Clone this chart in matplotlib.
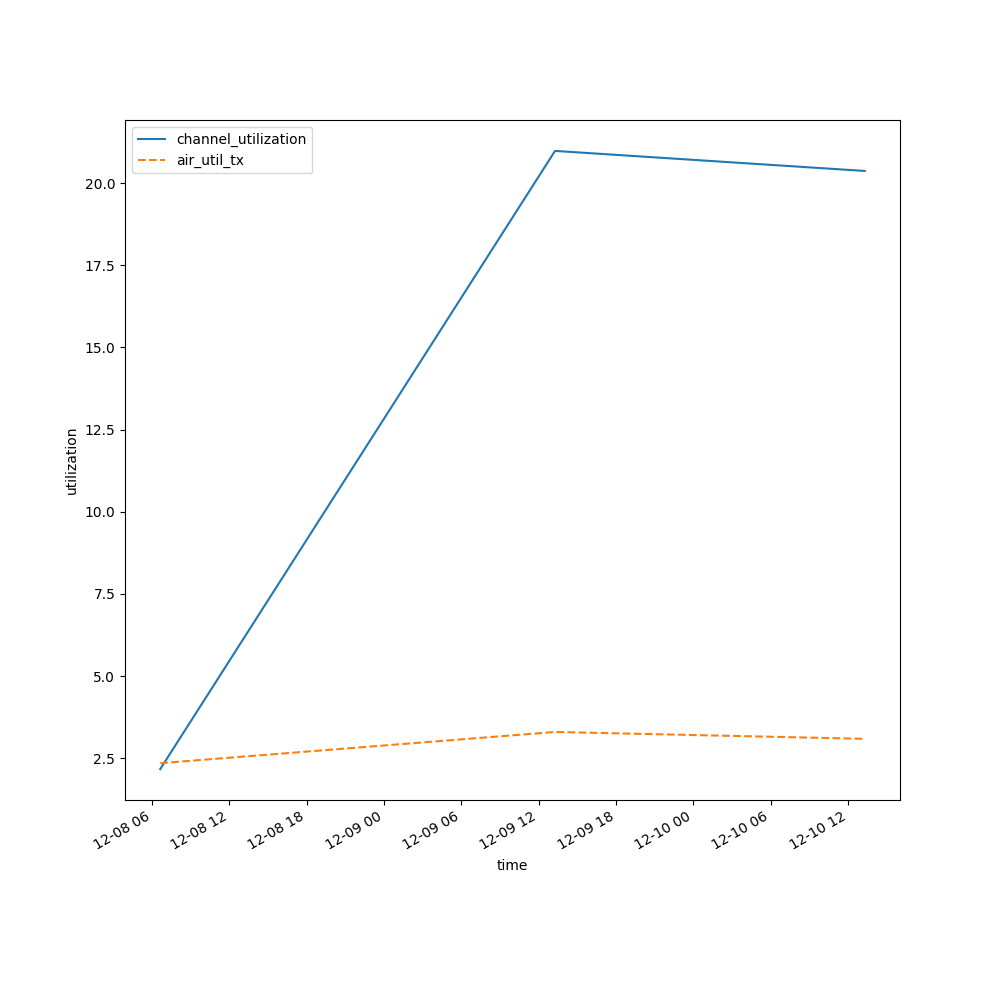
import matplotlib
matplotlib.use("Agg")
import matplotlib.pyplot as plt
import pandas as pd

# readings taken off the reference chart
times = pd.to_datetime(["2024-12-08 06:38", "2024-12-09 13:16", "2024-12-10 13:18"])
channel_utilization = [2.17, 20.98, 20.37]
air_util_tx = [2.35, 3.30, 3.09]

fig, ax = plt.subplots(figsize=(10, 10), dpi=100)
ax.plot(times, channel_utilization, label="channel_utilization")
ax.plot(times, air_util_tx, "--", label="air_util_tx")

ax.xaxis.set_major_formatter(matplotlib.dates.DateFormatter("%m-%d %H"))
ax.set_xlabel("time")
ax.set_ylabel("utilization")
ax.legend(loc="upper left")
fig.autofmt_xdate()

plt.savefig("out.png", dpi=100)
plt.close()
